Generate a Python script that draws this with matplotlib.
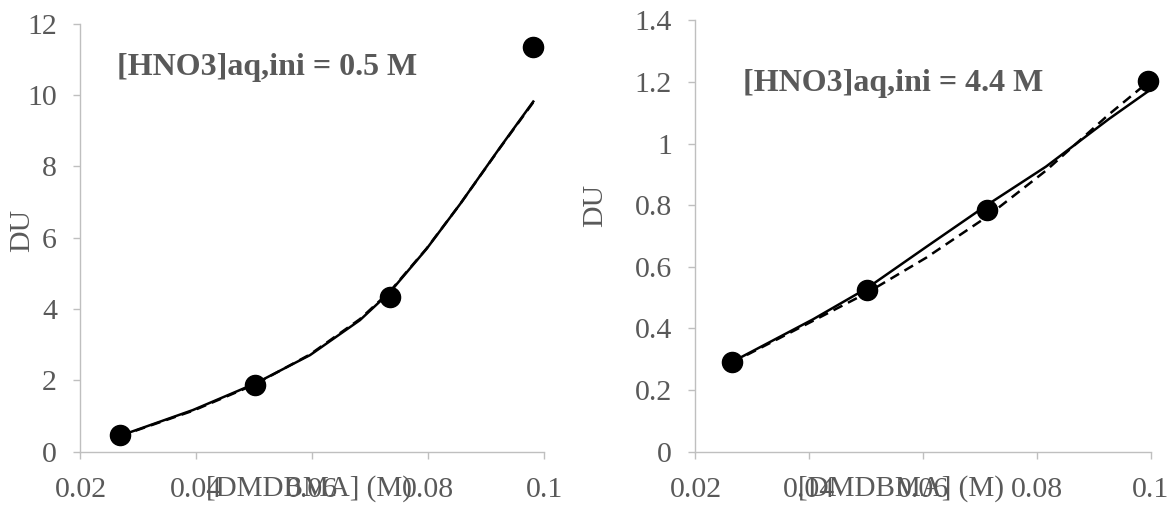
import matplotlib
matplotlib.use("Agg")
import matplotlib.pyplot as plt
from matplotlib.ticker import FuncFormatter

plt.rcParams['font.family'] = ['Liberation Serif', 'DejaVu Serif']

# dados experimentais - painel esquerdo ([HNO3] = 0.5 M)
x_exp_05 = [0.0268, 0.0501, 0.0734, 0.0981]
du_exp_05 = [0.47, 1.87, 4.35, 11.36]

# curvas de ajuste
x_fit_05 = [0.0268, 0.0279, 0.0394, 0.0501, 0.0596, 0.0682, 0.0734, 0.0797, 0.0855, 0.0924, 0.0981]
du_solid_05 = [0.47, 0.51, 1.17, 1.91, 2.71, 3.69, 4.48, 5.69, 6.95, 8.54, 9.82]
du_dash_05 = [0.46, 0.50, 1.15, 1.89, 2.73, 3.72, 4.50, 5.70, 6.95, 8.53, 9.80]

# dados experimentais - painel direito ([HNO3] = 4.4 M)
x_exp_44 = [0.0265, 0.0501, 0.0712, 0.0996]
du_exp_44 = [0.292, 0.524, 0.784, 1.202]

x_fit_44 = [0.0265, 0.0407, 0.0501, 0.0606, 0.0712, 0.0816, 0.0927, 0.0996]
du_solid_44 = [0.292, 0.430, 0.530, 0.665, 0.800, 0.925, 1.080, 1.170]
du_dash_44 = [0.290, 0.425, 0.515, 0.630, 0.762, 0.912, 1.095, 1.200]

labels = ['[HNO3]aq,ini = 0.5 M', '[HNO3]aq,ini = 4.4 M']
xlabel = '[DMDBMA] (M)'
ylabel = 'DU'

cinza = '#595959'
eixo = '#bfbfbf'

fig = plt.figure(figsize=(11.7, 5.07), dpi=100)
ax1 = fig.add_axes([0.0688, 0.109, 0.3964, 0.844])
ax2 = fig.add_axes([0.5944, 0.109, 0.389, 0.851])


def estilo(ax, ymax, ystep):
    for s in ['top', 'right']:
        ax.spines[s].set_visible(False)
    for s in ['left', 'bottom']:
        ax.spines[s].set_color(eixo)
        ax.spines[s].set_linewidth(1.0)
    ax.set_xlim(0.02, 0.1)
    ax.set_ylim(0, ymax)
    ax.set_xticks([0.02, 0.04, 0.06, 0.08, 0.1])
    ax.set_yticks([i * ystep for i in range(int(round(ymax / ystep)) + 1)])
    ax.xaxis.set_major_formatter(FuncFormatter(lambda v, p: '%g' % round(v, 3)))
    ax.yaxis.set_major_formatter(FuncFormatter(lambda v, p: '%g' % round(v, 3)))
    ax.tick_params(axis='both', colors=eixo, labelcolor=cinza, labelsize=21.5,
                   length=5, width=1.0, direction='out')
    ax.tick_params(axis='x', pad=13)
    ax.tick_params(axis='y', pad=12)


# painel esquerdo
ax1.plot(x_fit_05, du_dash_05, color='black', lw=1.8, ls=(0, (4, 2.5)))
ax1.plot(x_fit_05, du_solid_05, color='black', lw=1.8)
ax1.plot(x_exp_05, du_exp_05, 'o', color='black', ms=14.5, clip_on=False)
estilo(ax1, 12, 2)
ax1.text(0.079, 0.899, labels[0], transform=ax1.transAxes, fontsize=23,
         fontweight='bold', color=cinza, va='center', ha='left')
ax1.text(0.493, -0.087, xlabel, transform=ax1.transAxes, fontsize=21,
         color=cinza, ha='center', va='center')
ax1.set_ylabel(ylabel, fontsize=21.5, color=cinza)
ax1.yaxis.set_label_coords(-0.098, 0.518)

# painel direito
ax2.plot(x_fit_44, du_dash_44, color='black', lw=1.8, ls=(0, (4, 2.5)))
ax2.plot(x_fit_44, du_solid_44, color='black', lw=1.8)
ax2.plot(x_exp_44, du_exp_44, 'o', color='black', ms=14.5, clip_on=False)
estilo(ax2, 1.4, 0.2)
ax2.text(0.105, 0.854, labels[1], transform=ax2.transAxes, fontsize=23,
         fontweight='bold', color=cinza, va='center', ha='left')
ax2.text(0.451, -0.086, xlabel, transform=ax2.transAxes, fontsize=21,
         color=cinza, ha='center', va='center')
ax2.set_ylabel(ylabel, fontsize=21.5, color=cinza)
ax2.yaxis.set_label_coords(-0.192, 0.572)

fig.savefig('out.png', dpi=100)
